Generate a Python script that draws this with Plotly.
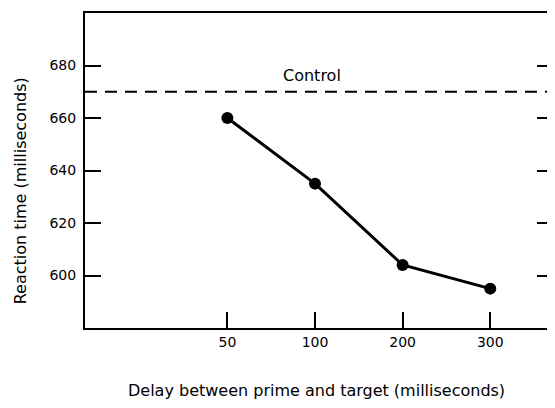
import plotly.graph_objects as go

delays = ["50", "100", "200", "300"]
reaction_times = [660, 635, 604, 595]
control_rt = 670
y_ticks = [600, 620, 640, 660, 680]

FONT = "DejaVu Sans"

fig = go.Figure()
fig.add_trace(go.Scatter(
    x=delays, y=reaction_times, mode="lines+markers",
    line=dict(color="black", width=3),
    marker=dict(color="black", size=12),
    showlegend=False,
))

fig.add_shape(type="line", xref="paper", yref="y", x0=0, x1=1,
              y0=control_rt, y1=control_rt,
              line=dict(color="black", width=2, dash="12px,8px"))
fig.add_annotation(text="Control", xref="x", yref="y", x=0.96, y=control_rt,
                   yanchor="bottom", yshift=5, showarrow=False,
                   font=dict(family=FONT, size=16, color="black"))

fig.add_annotation(text="Delay between prime and target (milliseconds)",
                   xref="paper", yref="paper", x=(317 - 85) / 470, y=-(390 - 328) / 315,
                   xanchor="center", yanchor="middle", showarrow=False,
                   font=dict(family=FONT, size=16, color="black"))
fig.add_annotation(text="Reaction time (milliseconds)",
                   xref="paper", yref="paper", x=-(85 - 20) / 470, y=(328 - 191) / 315,
                   xanchor="center", yanchor="middle", textangle=-90, showarrow=False,
                   font=dict(family=FONT, size=16, color="black"))

fig.update_xaxes(
    type="category", range=[-1.625, 3.716],
    showline=True, linecolor="black", linewidth=2, mirror=True,
    ticks="inside", ticklen=16, tickwidth=2, tickcolor="black",
    showgrid=False, zeroline=False,
    tickfont=dict(family=FONT, size=14, color="black"),
)
fig.update_yaxes(
    range=[580, 700], tickvals=y_ticks,
    showline=True, linecolor="black", linewidth=2, mirror="ticks",
    ticks="inside", ticklen=16, tickwidth=2, tickcolor="black",
    showgrid=False, zeroline=False, ticklabelstandoff=4,
    tickfont=dict(family=FONT, size=14, color="black"),
)

fig.update_layout(
    width=547, height=400,
    margin=dict(l=77, r=0, t=5, b=80),
    plot_bgcolor="white", paper_bgcolor="white",
    font=dict(family=FONT, color="black"),
)

fig.write_html("out.html")
